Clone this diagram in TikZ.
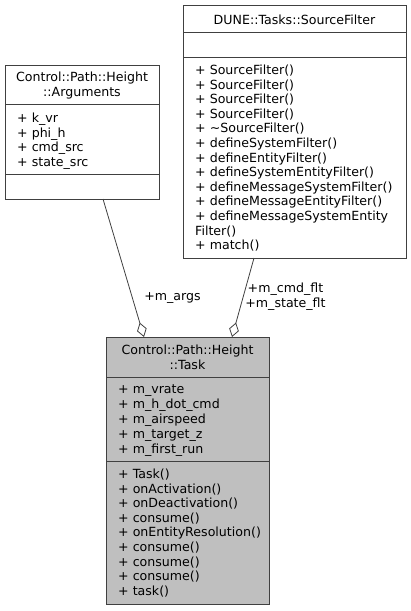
\documentclass[tikz,border=0pt]{standalone}
\usepackage{fontspec}
\setmainfont{DejaVu Sans}
\usetikzlibrary{arrows.meta}
\definecolor{edgegray}{HTML}{404040}
\definecolor{taskfill}{HTML}{BFBFBF}
\tikzset{
	member/.style={anchor=west, inner sep=0pt, text height=9.5pt, text depth=2.5pt, yshift=-2pt, font=\fontsize{12.6}{15}\selectfont},
	classname/.style={anchor=center, inner sep=0pt, align=center, yshift=-1.5pt, font=\fontsize{12.6}{15}\selectfont},
	boxline/.style={draw=edgegray, line width=1pt},
	aggr/.style={draw=edgegray, line width=0.8pt, -{Diamond[open, length=15pt, width=10pt, line width=0.8pt]}}
}

\begin{document}
\begin{tikzpicture}[x=1pt, y=-1pt]
		%%%%% START %%%%%
		\useasboundingbox (0, 0) rectangle (411, 611);
		
		% Arguments
		\draw[boxline, fill=white] (5, 65) rectangle (159, 199);
		\draw[boxline] (5, 104) -- (159, 104);
		\draw[boxline] (5, 174) -- (159, 174);
		\node[classname] (argstitle) at (82, 84) {Control::Path::Height\\::Arguments};
		\foreach \m [count=\i] in {k\_vr, phi\_h, cmd\_src, state\_src}
			\node[member] (args\i) at (17, {117+14.7*(\i-1)}) {+ \m};
		
		% SourceFilter
		\draw[boxline, fill=white] (183, 5) rectangle (406, 258);
		\draw[boxline] (183, 32) -- (406, 32);
		\draw[boxline] (183, 57) -- (406, 57);
		\node[classname] (sftitle) at (294.5, 18) {DUNE::Tasks::SourceFilter};
		\foreach \m [count=\i] in {+ SourceFilter(), + SourceFilter(), + SourceFilter(), + SourceFilter(),
				+ {\textasciitilde}SourceFilter(), + defineSystemFilter(), + defineEntityFilter(),
				+ defineSystemEntityFilter(), + defineMessageSystemFilter(), + defineMessageEntityFilter(),
				+ defineMessageSystemEntity, Filter(), + match()}
			\node[member] (sf\i) at (195, {69+14.6*(\i-1)}) {\m};
		
		% Task
		\draw[boxline, fill=taskfill] (106, 337) rectangle (269, 604);
		\draw[boxline] (106, 377) -- (269, 377);
		\draw[boxline] (106, 461) -- (269, 461);
		\node[classname] (tasktitle) at (187.5, 355.5) {Control::Path::Height\\::Task};
		\foreach \m [count=\i] in {m\_vrate, m\_h\_dot\_cmd, m\_airspeed, m\_target\_z, m\_first\_run}
			\node[member] (taskattr\i) at (118, {388+15*(\i-1)}) {+ \m};
		\foreach \m [count=\i] in {Task(), onActivation(), onDeactivation(), consume(), onEntityResolution(),
				consume(), consume(), consume(), task()}
			\node[member] (taskop\i) at (118, {473+14.6*(\i-1)}) {+ \m};
		
		% aggregations
		\coordinate (argsfoot) at (103, 199);
		\coordinate (argshead) at (144, 337);
		\coordinate (sffoot) at (254, 258);
		\coordinate (sfhead) at (232, 337);
		\draw[aggr] (argsfoot) -- (argshead);
		\draw[aggr] (sffoot) -- (sfhead);
		\node[classname] (argslabel) at (172.5, 297) {+m\_args};
		\node[classname] (sflabel) at (285.5, 295.5) {+m\_cmd\_flt\\+m\_state\_flt};
		
		%%%%% END %%%%%
	\end{tikzpicture}
\end{document}
